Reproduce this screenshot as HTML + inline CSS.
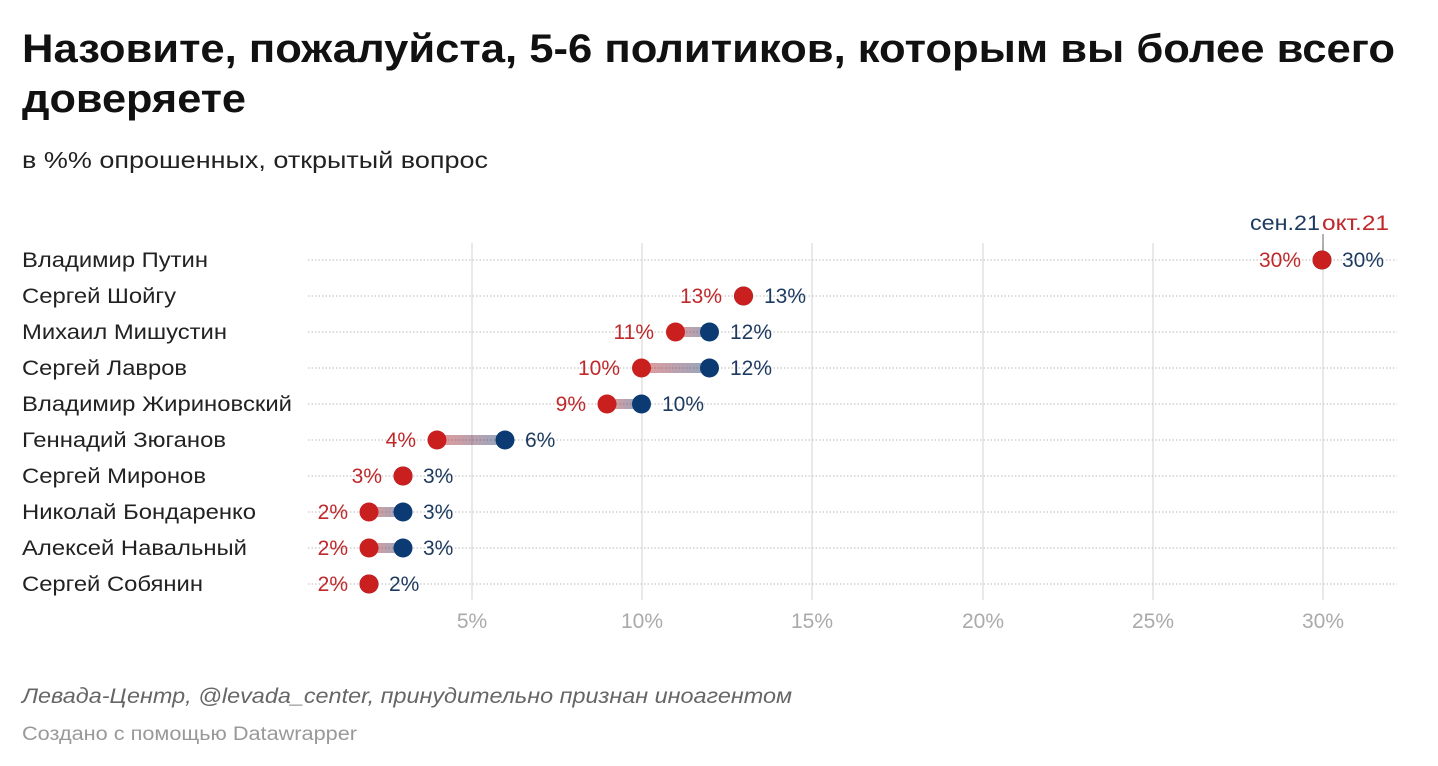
<!DOCTYPE html>
<html><head><meta charset="utf-8"><style>
html,body{margin:0;padding:0;background:#fff;}
svg{display:block;}
text{font-family:"Liberation Sans",sans-serif;}
</style></head><body>
<svg width="1438" height="766" viewBox="0 0 1438 766" xmlns="http://www.w3.org/2000/svg">
<defs>
<linearGradient id="g" x1="0" x2="1" y1="0" y2="0">
<stop offset="0" stop-color="#c91f1f" stop-opacity="0.45"/>
<stop offset="1" stop-color="#0b3b72" stop-opacity="0.45"/>
</linearGradient>
</defs>
<text x="22" y="62" font-size="40" font-weight="bold" fill="#111" textLength="1373" lengthAdjust="spacingAndGlyphs">Назовите, пожалуйста, 5-6 политиков, которым вы более всего</text>
<text x="22" y="112" font-size="40" font-weight="bold" fill="#111" textLength="224" lengthAdjust="spacingAndGlyphs">доверяете</text>
<text x="22" y="168" font-size="23" fill="#222" textLength="466" lengthAdjust="spacingAndGlyphs">в %% опрошенных, открытый вопрос</text>

<g stroke="#e2e2e2" stroke-width="1.5">
<line x1="472" y1="243" x2="472" y2="600"/>
<line x1="642" y1="243" x2="642" y2="600"/>
<line x1="812" y1="243" x2="812" y2="600"/>
<line x1="983" y1="243" x2="983" y2="600"/>
<line x1="1153" y1="243" x2="1153" y2="600"/>
<line x1="1323" y1="243" x2="1323" y2="600"/>
</g>
<line x1="1323" y1="234" x2="1323" y2="252" stroke="#999" stroke-width="1.5"/>
<g stroke="#c8c8c8" stroke-width="1.2" stroke-dasharray="1.5 2">
<line x1="308" y1="260" x2="1397" y2="260"/>
<line x1="308" y1="296" x2="1397" y2="296"/>
<line x1="308" y1="332" x2="1397" y2="332"/>
<line x1="308" y1="368" x2="1397" y2="368"/>
<line x1="308" y1="404" x2="1397" y2="404"/>
<line x1="308" y1="440" x2="1397" y2="440"/>
<line x1="308" y1="476" x2="1397" y2="476"/>
<line x1="308" y1="512" x2="1397" y2="512"/>
<line x1="308" y1="548" x2="1397" y2="548"/>
<line x1="308" y1="584" x2="1397" y2="584"/>
</g>

<text x="1250" y="230" font-size="21" fill="#1d3a5f" textLength="70" lengthAdjust="spacingAndGlyphs">сен.21</text>
<text x="1322" y="230" font-size="21" fill="#c0282a" textLength="67" lengthAdjust="spacingAndGlyphs">окт.21</text>

<g font-size="21" fill="#222">
<text x="22" y="267" textLength="186" lengthAdjust="spacingAndGlyphs">Владимир Путин</text>
<text x="22" y="303" textLength="154" lengthAdjust="spacingAndGlyphs">Сергей Шойгу</text>
<text x="22" y="339" textLength="205" lengthAdjust="spacingAndGlyphs">Михаил Мишустин</text>
<text x="22" y="375" textLength="165" lengthAdjust="spacingAndGlyphs">Сергей Лавров</text>
<text x="22" y="411" textLength="270" lengthAdjust="spacingAndGlyphs">Владимир Жириновский</text>
<text x="22" y="447" textLength="204" lengthAdjust="spacingAndGlyphs">Геннадий Зюганов</text>
<text x="22" y="483" textLength="184" lengthAdjust="spacingAndGlyphs">Сергей Миронов</text>
<text x="22" y="519" textLength="234" lengthAdjust="spacingAndGlyphs">Николай Бондаренко</text>
<text x="22" y="555" textLength="225" lengthAdjust="spacingAndGlyphs">Алексей Навальный</text>
<text x="22" y="591" textLength="181" lengthAdjust="spacingAndGlyphs">Сергей Собянин</text>
</g>

<g fill="url(#g)">
<rect x="675" y="327" width="34" height="10"/>
<rect x="641" y="363" width="68" height="10"/>
<rect x="607" y="399" width="34" height="10"/>
<rect x="437" y="435" width="68" height="10"/>
<rect x="369" y="507" width="34" height="10"/>
<rect x="369" y="543" width="34" height="10"/>
</g>
<g fill="#0b3b72">
<circle cx="1322" cy="260" r="9.5"/>
<circle cx="743.5" cy="296" r="9.5"/>
<circle cx="709.5" cy="332" r="9.5"/>
<circle cx="709.5" cy="368" r="9.5"/>
<circle cx="641.5" cy="404" r="9.5"/>
<circle cx="505" cy="440" r="9.5"/>
<circle cx="403" cy="476" r="9.5"/>
<circle cx="403" cy="512" r="9.5"/>
<circle cx="403" cy="548" r="9.5"/>
<circle cx="369" cy="584" r="9.5"/>
</g>
<g fill="#c91f1f">
<circle cx="1322" cy="260" r="9.5"/>
<circle cx="743.5" cy="296" r="9.5"/>
<circle cx="675.5" cy="332" r="9.5"/>
<circle cx="641.5" cy="368" r="9.5"/>
<circle cx="607" cy="404" r="9.5"/>
<circle cx="437" cy="440" r="9.5"/>
<circle cx="403" cy="476" r="9.5"/>
<circle cx="369" cy="512" r="9.5"/>
<circle cx="369" cy="548" r="9.5"/>
<circle cx="369" cy="584" r="9.5"/>
</g>
<g font-size="21" fill="#c0282a" text-anchor="end">
<text x="1301" y="267">30%</text>
<text x="722" y="303">13%</text>
<text x="654" y="339">11%</text>
<text x="620" y="375">10%</text>
<text x="586" y="411">9%</text>
<text x="416" y="447">4%</text>
<text x="382" y="483">3%</text>
<text x="348" y="519">2%</text>
<text x="348" y="555">2%</text>
<text x="348" y="591">2%</text>
</g>
<g font-size="21" fill="#1d3a5f">
<text x="1342" y="267">30%</text>
<text x="764" y="303">13%</text>
<text x="730" y="339">12%</text>
<text x="730" y="375">12%</text>
<text x="662" y="411">10%</text>
<text x="525" y="447">6%</text>
<text x="423" y="483">3%</text>
<text x="423" y="519">3%</text>
<text x="423" y="555">3%</text>
<text x="389" y="591">2%</text>
</g>

<g font-size="21" fill="#aaa" text-anchor="middle">
<text x="472" y="628">5%</text>
<text x="642" y="628">10%</text>
<text x="812" y="628">15%</text>
<text x="983" y="628">20%</text>
<text x="1153" y="628">25%</text>
<text x="1323" y="628">30%</text>
</g>

<text x="22" y="703" font-size="21" font-style="italic" fill="#666" textLength="770" lengthAdjust="spacingAndGlyphs">Левада-Центр, @levada_center, принудительно признан иноагентом</text>
<text x="22" y="740" font-size="19" fill="#999" textLength="335" lengthAdjust="spacingAndGlyphs">Создано с помощью Datawrapper</text>
</svg>
</body></html>
